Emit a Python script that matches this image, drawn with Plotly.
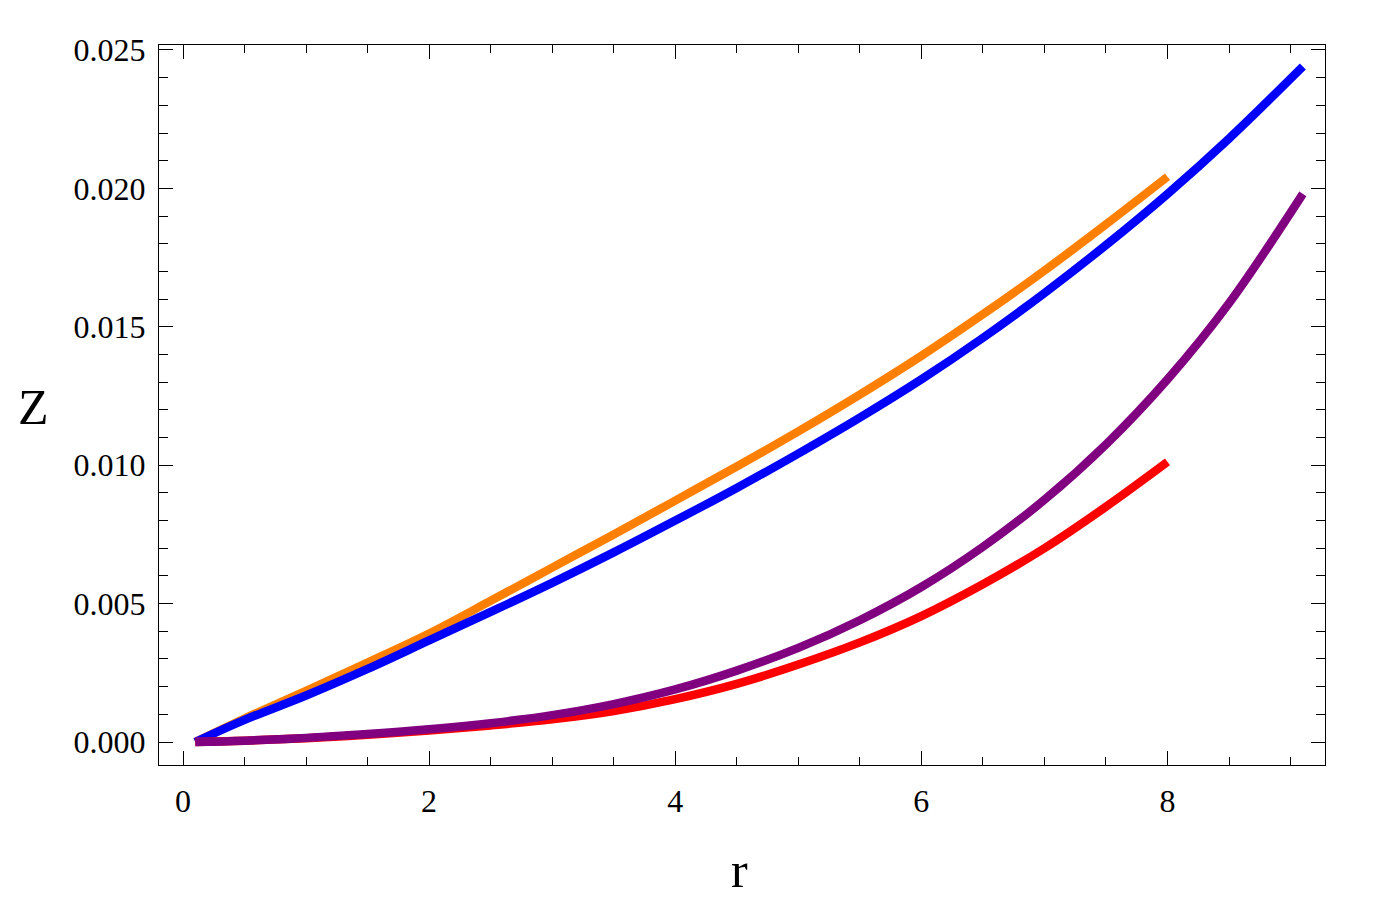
import plotly.graph_objects as go

# r values and Z values (Z read in units of 1e-3, scaled below)
r_orange = [0.1, 0.5, 1.0, 1.5, 2.0, 2.5, 3.0, 3.5, 4.0, 4.5, 5.0, 5.5, 6.0, 6.5, 7.0, 7.5, 8.0]
z_orange = [0.0, 0.85, 1.85, 2.87, 3.92, 5.1, 6.3, 7.5, 8.72, 9.95, 11.22, 12.55, 13.95, 15.45, 17.03, 18.7, 20.42]

r_blue = [0.1, 0.5, 1.0, 1.5, 2.0, 2.5, 3.0, 3.5, 4.0, 4.5, 5.0, 5.5, 6.0, 6.5, 7.0, 7.5, 8.0, 8.5, 9.1]
z_blue = [0.0, 0.8, 1.68, 2.64, 3.67, 4.7, 5.75, 6.85, 8.0, 9.18, 10.42, 11.72, 13.1, 14.6, 16.22, 17.95, 19.8, 21.8, 24.4]

r_red = [0.1, 0.5, 1.0, 1.5, 2.0, 2.5, 3.0, 3.5, 4.0, 4.5, 5.0, 5.5, 6.0, 6.5, 7.0, 7.5, 8.0]
z_red = [0.0, 0.05, 0.14, 0.26, 0.42, 0.6, 0.82, 1.12, 1.55, 2.1, 2.8, 3.6, 4.55, 5.7, 7.0, 8.5, 10.12]

r_purple = [0.1, 0.5, 1.0, 1.5, 2.0, 2.5, 3.0, 3.5, 4.0, 4.5, 5.0, 5.5, 6.0, 6.5, 7.0, 7.5, 8.0, 8.5, 9.1]
z_purple = [0.0, 0.05, 0.15, 0.29, 0.46, 0.68, 0.97, 1.37, 1.9, 2.58, 3.4, 4.4, 5.6, 7.05, 8.75, 10.75, 13.1, 15.85, 19.8]

x_ticks = [0, 2, 4, 6, 8]
y_ticks = [0.0, 0.005, 0.010, 0.015, 0.020, 0.025]

COLORS = {
    "orange": "#FF8000",
    "blue": "#0000FF",
    "red": "#FF0000",
    "purple": "#800080",
}

fig = go.Figure()
for r, z, c in [
    (r_orange, z_orange, "orange"),
    (r_blue, z_blue, "blue"),
    (r_red, z_red, "red"),
    (r_purple, z_purple, "purple"),
]:
    fig.add_trace(go.Scatter(
        x=r, y=[v / 1000 for v in z],
        mode="lines",
        line=dict(color=COLORS[c], width=8.5, shape="spline", smoothing=1.0),
        showlegend=False,
        hoverinfo="skip",
    ))

axis_common = dict(
    showgrid=False,
    zeroline=False,
    showline=True,
    linecolor="black",
    linewidth=1,
    mirror="ticks",
    ticks="inside",
    ticklen=14,
    tickwidth=1,
    tickcolor="black",
    tickfont=dict(family="Liberation Serif", size=32, color="black"),
)

# the page body adds an 8px offset, margins are shifted to compensate
fig.update_layout(
    width=1374,
    height=913,
    plot_bgcolor="white",
    paper_bgcolor="white",
    margin=dict(l=151, r=57, t=37, b=156),
    xaxis=dict(
        **axis_common,
        range=[-0.195, 9.28],
        tickvals=x_ticks,
        ticktext=[str(v) for v in x_ticks],
        minor=dict(dtick=0.5, tick0=0, ticks="inside", ticklen=8, tickcolor="black", tickwidth=1),
        ticklabelstandoff=8,
    ),
    yaxis=dict(
        **axis_common,
        range=[-0.00083, 0.02518],
        tickvals=y_ticks,
        ticktext=[f"{v:.3f}" for v in y_ticks],
        minor=dict(dtick=0.001, tick0=0, ticks="inside", ticklen=9, tickcolor="black", tickwidth=1),
        ticklabelstandoff=6,
    ),
    annotations=[
        dict(text="Z", xref="paper", yref="paper", x=-0.108, y=0.497,
             xanchor="center", yanchor="middle",
             showarrow=False, font=dict(family="Liberation Serif", size=50, color="black")),
        dict(text="r", xref="paper", yref="paper", x=0.498, y=-0.146,
             xanchor="center", yanchor="middle",
             showarrow=False, font=dict(family="Liberation Serif", size=50, color="black")),
    ],
)

fig.write_html("out.html")
